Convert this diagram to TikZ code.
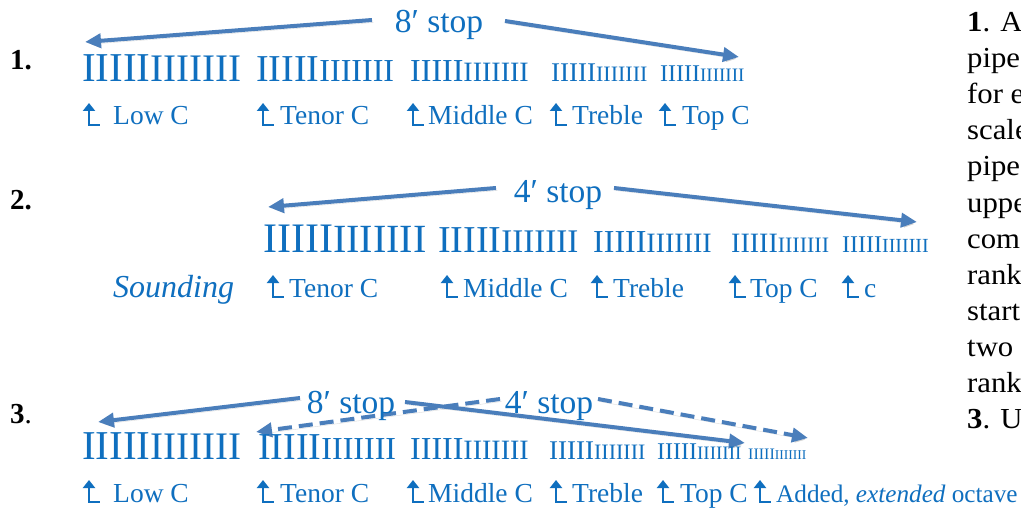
\documentclass[tikz,border=0pt]{standalone}
\usepackage{fontspec}
\setmainfont{Liberation Serif}
\newfontfamily\bodyfont{Liberation Serif}[FakeStretch=1.06]
\usetikzlibrary{arrows.meta}
\definecolor{txtblue}{HTML}{0F6FBF}
\definecolor{arrblue}{HTML}{4A7EBB}
\newcommand\pipegrp[2]{{\fontsize{#1}{#1}\selectfont IIIII}{\fontsize{#2}{#2}\selectfont IIIIIII}}
\tikzset{
  lbl/.style={anchor=base west, inner sep=0pt, text=txtblue, font=\fontsize{27.5}{32}\selectfont},
  stoplbl/.style={anchor=base, inner sep=0pt, text=txtblue, font=\fontsize{33.5}{38}\selectfont},
  rownum/.style={anchor=base west, inner sep=0pt, font=\fontsize{29}{32}\selectfont\bfseries},
  body/.style={anchor=base west, inner sep=0pt, font=\bodyfont\fontsize{29}{34}\selectfont},
  pipes/.style={anchor=base west, inner sep=0pt, text=txtblue},
  arrowshadow/.style={preaction={draw=black!45, opacity=0.3, transform canvas={xshift=1.5pt,yshift=-2.5pt}}},
  bigarrow/.style={draw=arrblue, line width=4pt, -{Triangle[length=16pt,width=14pt]}, arrowshadow},
  dasharrow/.style={bigarrow, dash pattern=on 14pt off 7pt},
  pics/upl/.style={code={\draw[txtblue, line width=2.8pt, -{Triangle[length=8pt,width=12pt]}] (16.5,0) -- (6,0) -- (6,-22);}}
}
\begin{document}
\begin{tikzpicture}[x=1pt,y=-1pt]
\useasboundingbox (0,0) rectangle (1021,508);
\fill[white] (0,0) rectangle (1021,508);

% row numbers
\node[rownum] (n1) at (10,70) {1.};
\node[rownum] (n2) at (10,210) {2.};
\node[rownum] (n3) at (10,423) {\textbf{3}\mdseries.};

% ---------- row 1 ----------
\node[stoplbl] (s1) at (439,33) {8′ stop};
\coordinate (a1s) at (372,20); \coordinate (a1e) at (85,42);
\coordinate (a2s) at (505,21); \coordinate (a2e) at (739,57);
\draw[bigarrow] (a1s) -- (a1e);
\draw[bigarrow] (a2s) -- (a2e);

\node[pipes] (p11) at (82,82) {\pipegrp{41}{39}};
\node[pipes] (p12) at (256,82) {\pipegrp{38}{32}};
\node[pipes] (p13) at (410,82) {\pipegrp{32}{28}};
\node[pipes] (p14) at (551,82) {\pipegrp{27}{22}};
\node[pipes] (p15) at (660,82) {\pipegrp{24}{19}};

\pic at (83,125) {upl};  \node[lbl] (l11) at (113,125) {Low C};
\pic at (257,125) {upl}; \node[lbl] (l12) at (280,125) {Tenor C};
\pic at (407,125) {upl}; \node[lbl] (l13) at (428,125) {Middle C};
\pic at (550,125) {upl}; \node[lbl] (l14) at (572,125) {Treble};
\pic at (659,125) {upl}; \node[lbl] (l15) at (682,125) {Top C};

% ---------- row 2 ----------
\node[stoplbl] (s2) at (558,203) {4′ stop};
\coordinate (a3s) at (496,188); \coordinate (a3e) at (268,207);
\coordinate (a4s) at (614,188); \coordinate (a4e) at (917,222);
\draw[bigarrow] (a3s) -- (a3e);
\draw[bigarrow] (a4s) -- (a4e);

\node[pipes] (p21) at (263,252) {\pipegrp{42}{40}};
\node[pipes] (p22) at (438,252) {\pipegrp{38}{33}};
\node[pipes] (p23) at (593,252) {\pipegrp{32}{28}};
\node[pipes] (p24) at (731,252) {\pipegrp{28}{22}};
\node[pipes] (p25) at (842,252) {\pipegrp{24}{20}};

\node[lbl, font=\fontsize{32}{38}\selectfont\itshape] (snd) at (113,297) {Sounding};
\pic at (267,297) {upl}; \node[lbl] (l21) at (289,297) {Tenor C};
\pic at (441,297) {upl}; \node[lbl] (l22) at (463,297) {Middle C};
\pic at (591,297) {upl}; \node[lbl] (l23) at (613,297) {Treble};
\pic at (729,297) {upl}; \node[lbl] (l24) at (750,297) {Top C};
\pic at (842,297) {upl}; \node[lbl] (l25) at (864,297) {c};

% ---------- row 3 ----------
\coordinate (a5s) at (300,398); \coordinate (a5e) at (98,422);
\coordinate (d1s) at (500,399); \coordinate (d1e) at (256,432);
\coordinate (a6s) at (405,402); \coordinate (a6e) at (745,443);
\coordinate (d2s) at (598,399); \coordinate (d2e) at (808,438);
\draw[dasharrow] (d1s) -- (d1e);
\draw[dasharrow] (d2s) -- (d2e);
\draw[bigarrow] (a5s) -- (a5e);
\draw[bigarrow] (a6s) -- (a6e);
\node[stoplbl] (s3) at (351,413) {8′ stop};
\node[stoplbl] (s4) at (549,413) {4′ stop};

\node[pipes] (p31) at (82,459) {\pipegrp{41}{39}};
\node[pipes] (p32) at (258,459) {\pipegrp{38}{32}};
\node[pipes] (p33) at (410,459) {\pipegrp{32}{28}};
\node[pipes] (p34) at (549,459) {\pipegrp{27}{22}};
\node[pipes] (p35) at (657,459) {\pipegrp{24}{19}};
\node[pipes] (p36) at (748,459) {\pipegrp{16}{13.5}};

\pic at (83,502) {upl};  \node[lbl] (l31) at (113,502) {Low C};
\pic at (257,502) {upl}; \node[lbl] (l32) at (280,502) {Tenor C};
\pic at (407,502) {upl}; \node[lbl] (l33) at (428,502) {Middle C};
\pic at (550,502) {upl}; \node[lbl] (l34) at (572,502) {Treble};
\pic at (657,502) {upl}; \node[lbl] (l35) at (680,502) {Top C};
\pic at (754,502) {upl}; \node[lbl, font=\fontsize{25.2}{30}\selectfont] (l36) at (776,502) {Added, \textit{extended} octave};

% ---------- right column (cropped body text) ----------
\node[body] (t1) at (967,32) {\textbf{1}. A};
\node[body] (t2) at (967,68) {pipe};
\node[body] (t3) at (967,104) {for e};
\node[body] (t4) at (967,140) {scale};
\node[body] (t5) at (967,176) {pipe};
\node[body] (t6) at (967,212) {uppe};
\node[body] (t7) at (967,248) {com};
\node[body] (t8) at (967,284) {rank};
\node[body] (t9) at (967,320) {start};
\node[body] (t10) at (967,356) {two};
\node[body] (t11) at (967,392) {rank};
\node[body] (t12) at (967,428) {\textbf{3}. U};
\end{tikzpicture}
\end{document}
